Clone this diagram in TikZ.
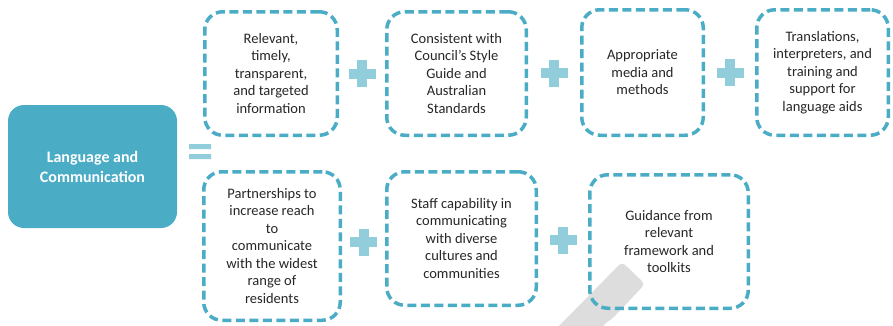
\documentclass[tikz,border=0pt]{standalone}
\usepackage{fontspec}
\setmainfont{Carlito}
\usetikzlibrary{calc}
\definecolor{tealdark}{HTML}{4BACC6}
\definecolor{teallight}{HTML}{92CDDC}
\definecolor{pengray}{HTML}{DDDDDD}
\definecolor{txt}{HTML}{262626}
\begin{document}
\begin{tikzpicture}[x=1pt,y=-1pt,
	item/.style={draw=tealdark,line width=3.5pt,dash pattern=on 9pt off 4.5pt,rounded corners=18pt,
		align=center,text=txt,font=\fontsize{14.5}{17.5}\selectfont,inner sep=0pt},
	plusmark/.pic={\fill[teallight] (-13.5,-5) rectangle (13.5,5);
		\fill[teallight] (-5,-13.5) rectangle (5,13.5);}]
	\useasboundingbox (0,0) rectangle (893,325);
	\fill[pengray,rounded corners=4pt] (556,329) -- (622,262) -- (645,284) -- (612,319) -- (608,321) -- (600,329) -- cycle;
	\node[fill=tealdark,rounded corners=16pt,minimum width=169pt,minimum height=123pt,inner sep=0pt,
		text=white,align=center,font=\bfseries\fontsize{16}{20}\selectfont] (lang) at (92.5,166.5) {Language and\\Communication};
	\fill[teallight] (189,144) rectangle (211,149) (189,154) rectangle (211,159);
	\node[item,minimum width=132.5pt,minimum height=123.5pt] (rel) at (271,73.5) {Relevant,\\timely,\\transparent,\\and targeted\\information};
	\node[item,minimum width=139.5pt,minimum height=123.5pt] (style) at (456.5,73.5) {Consistent with\\Council’s Style\\Guide and\\Australian\\Standards};
	\node[item,minimum width=121.5pt,minimum height=125.5pt] (media) at (642.5,72.5) {Appropriate\\media and\\methods};
	\node[item,minimum width=131.5pt,minimum height=125.5pt] (trans) at (822.5,72.5) {Translations,\\interpreters, and\\training and\\support for\\language aids};
	\node[item,minimum width=136.5pt,minimum height=148.5pt] (partner) at (272,246) {Partnerships to\\increase reach\\to\\communicate\\with the widest\\range of\\residents};
	\node[item,minimum width=149.5pt,minimum height=133.5pt] (staff) at (461.5,238.5) {Staff capability in\\communicating\\with diverse\\cultures and\\communities};
	\node[item,minimum width=158.5pt,minimum height=133.5pt] (guide) at (669,241.5) {Guidance from\\relevant\\framework and\\toolkits};
	\foreach \a/\b in {rel/style,style/media,media/trans,partner/staff,staff/guide}
		\pic at ($(\a.east)!0.5!(\b.west)$) {plusmark};
\end{tikzpicture}
\end{document}
